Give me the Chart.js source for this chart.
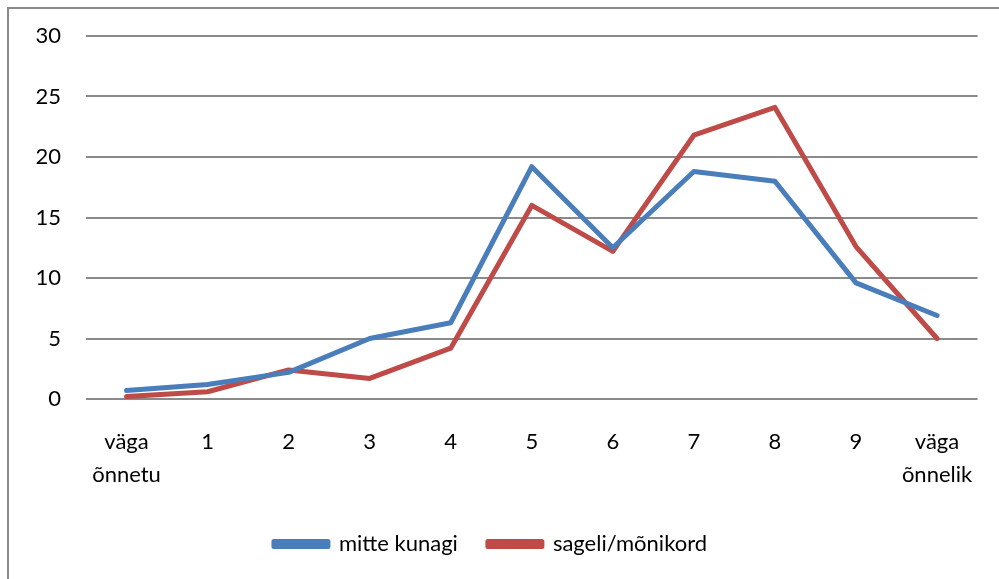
<!DOCTYPE html>
<html lang="et">
<head>
    <meta charset="UTF-8">
    <title>Õnnelikkus</title>
    <script src="https://cdn.jsdelivr.net/npm/chart.js@4.4.1/dist/chart.umd.min.js"></script>
    <style>
        body {
            margin: 0;
            background: white;
            overflow: hidden;
        }
        .frame {
            position: absolute;
            left: 7px;
            top: 7px;
            width: 1100px;
            height: 700px;
            border: 2px solid #8a8a8a;
        }
        .chart-box {
            position: absolute;
            left: 0;
            top: 0;
            width: 999px;
            height: 579px;
        }
    </style>
</head>
<body>
    <div class="frame"></div>
    <div class="chart-box">
        <canvas id="chart"></canvas>
    </div>

    <script>
        const categories = [['väga', 'õnnetu'], '1', '2', '3', '4', '5', '6', '7', '8', '9', ['väga', 'õnnelik']];
        const mitteKunagi = [0.7, 1.2, 2.2, 5.0, 6.3, 19.2, 12.5, 18.8, 18.0, 9.6, 6.9];
        const sageliMonikord = [0.2, 0.6, 2.4, 1.7, 4.2, 16.0, 12.2, 21.8, 24.1, 12.6, 5.0];
        const seriesNames = ['mitte kunagi', 'sageli/mõnikord'];
        const yTicks = [0, 5, 10, 15, 20, 25, 30];

        const fontFamily = 'Lato, "Open Sans", sans-serif';

        function lineSet(label, data, color) {
            return {
                label: label,
                data: data,
                borderColor: color,
                backgroundColor: color,
                borderWidth: 5,
                pointRadius: 0,
                tension: 0,
                borderCapStyle: 'round',
                borderJoinStyle: 'round'
            };
        }

        new Chart(document.getElementById('chart'), {
            type: 'line',
            data: {
                labels: categories,
                datasets: [
                    lineSet(seriesNames[0], mitteKunagi, '#4a7ebb'),
                    lineSet(seriesNames[1], sageliMonikord, '#be4b48')
                ]
            },
            options: {
                responsive: true,
                maintainAspectRatio: false,
                animation: false,
                layout: {
                    padding: { top: 29, right: 18, left: 0, bottom: 14 }
                },
                plugins: {
                    legend: {
                        position: 'bottom',
                        labels: {
                            boxWidth: 54,
                            boxHeight: 5,
                            padding: 30,
                            color: '#000',
                            font: { family: fontFamily, size: 22 }
                        }
                    },
                    tooltip: { enabled: false }
                },
                scales: {
                    x: {
                        offset: true,
                        grid: { display: false, drawTicks: false },
                        border: { display: false },
                        ticks: {
                            autoSkip: false,
                            maxRotation: 0,
                            padding: 26,
                            color: '#000',
                            font: { family: fontFamily, size: 22, lineHeight: 1.5 }
                        },
                        afterFit: function(scale) { scale.height = 104; }
                    },
                    y: {
                        min: 0,
                        max: 30,
                        afterBuildTicks: function(scale) {
                            scale.ticks = yTicks.map(v => ({ value: v }));
                        },
                        grid: { color: '#8a8a8a', lineWidth: 2, drawTicks: false },
                        border: { display: false },
                        ticks: {
                            padding: 25,
                            color: '#000',
                            font: { family: fontFamily, size: 22, lineHeight: 1 }
                        },
                        afterFit: function(scale) { scale.width = 86; }
                    }
                }
            }
        });
    </script>
</body>
</html>
